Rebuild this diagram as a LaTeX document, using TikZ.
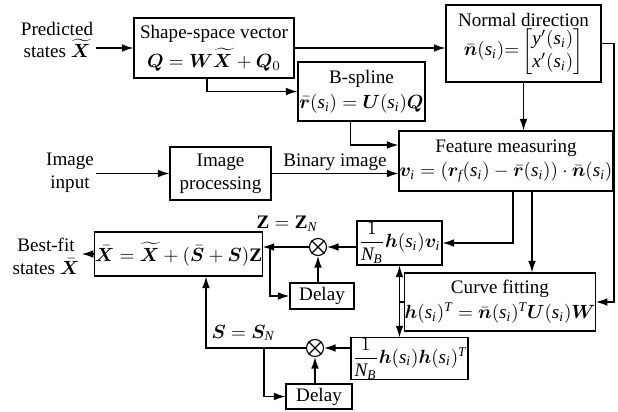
\documentclass[tikz,border=0pt]{standalone}
\usepackage{amsmath}
\usepackage{bm}
\usepackage{fontspec}
\setmainfont{Liberation Serif}
\newfontfamily\tmsfam{Liberation Serif}[NFSSFamily=tms]
\DeclareSymbolFont{letters}{TU}{tms}{m}{it}
\SetSymbolFont{letters}{bold}{TU}{tms}{b}{it}
\DeclareMathAlphabet{\mathbf}{TU}{tms}{b}{n}
\usetikzlibrary{positioning,arrows.meta,calc}
\newlength\pxu
\setlength\pxu{0.524pt}

\begin{document}
\begin{tikzpicture}[x=\pxu, y=-\pxu, line width=0.6pt, >={Latex[length=6pt,width=4pt]},
  blk/.style={draw, align=center, inner sep=0pt},
  mult/.style={draw, circle, minimum size=17\pxu, inner sep=0pt},
  lbl/.style={align=center, inner sep=1pt}]
\useasboundingbox (0,0) rectangle (618,411);

\node    (shape)   [blk, minimum width=160\pxu, minimum height=60\pxu] at (214,48)    {Shape-space vector\\[2pt] $\bm{Q}=\bm{W}\widetilde{\bm{X}}+\bm{Q}_0$};
\node    (bspl)    [blk, minimum width=127\pxu, minimum height=59\pxu] at (361.5,91.5) {B-spline\\[1pt] $\bar{\bm{r}}(s_i)=\bm{U}(s_i)\bm{Q}$};
\node    (normal)  [blk, minimum width=155\pxu, minimum height=77\pxu] at (523.5,43.5) {Normal direction\\ $\bar{\bm{n}}(s_i){=}\begin{bmatrix} y'(s_i)\\ x'(s_i)\end{bmatrix}$};
\node    (feat)    [blk, minimum width=214\pxu, minimum height=60\pxu] at (506,161)   {Feature measuring\\[1pt] $\bm{v}_i=(\bm{r}_f(s_i)-\bar{\bm{r}}(s_i))\cdot\bar{\bm{n}}(s_i)$};
\node    (proc)    [blk, minimum width=101\pxu, minimum height=53\pxu] at (220.5,173.5) {Image\\ processing};
\node    (xbar)    [blk, minimum width=151\pxu, minimum height=44\pxu] at (178.5,254) {$\bar{\bm{X}}=\widetilde{\bm{X}}+(\bar{\bm{S}}+\bm{S})\mathbf{Z}$};
\node    (hv)      [blk, minimum width=85\pxu,  minimum height=44\pxu] at (399.5,243) {$\dfrac{1}{N_B}\bm{h}(s_i)\bm{v}_i$};
\node    (fit)     [blk, minimum width=186\pxu, minimum height=58\pxu] at (500,302)   {Curve fitting\\[1pt] $\bm{h}(s_i)^T=\bar{\bm{n}}(s_i)^T\bm{U}(s_i)\bm{W}$};
\node    (hh)      [blk, minimum width=117\pxu, minimum height=41\pxu] at (409.5,358.5) {$\dfrac{1}{N_B}\bm{h}(s_i)\bm{h}(s_i)^T$};
\node    (d1)      [blk, minimum width=64\pxu,  minimum height=26\pxu] at (322,296)   {Delay};
\node    (d2)      [blk, minimum width=66\pxu,  minimum height=25\pxu] at (319,396.5) {Delay};
\node    (m1)      [mult] at (318,247) {};
\node    (m2)      [mult] at (315,348) {};

\node    (pred)    [lbl] at (57,40)   {Predicted\\ states $\widetilde{\bm{X}}$};
\node    (inp)     [lbl] at (70,173)  {Image\\ input};
\node    (best)    [lbl] at (46,256)  {Best-fit\\ states $\bar{\bm{X}}$};
\node    (zlab)    at (287,224)       {$\mathbf{Z}=\mathbf{Z}_N$};
\node    (slab)    at (243,333)       {$\bm{S}=\bm{S}_N$};

\draw    (m1.north west) -- (m1.south east)  (m1.north east) -- (m1.south west);
\draw    (m2.north west) -- (m2.south east)  (m2.north east) -- (m2.south west);

\coordinate (rt)  at (614,48);
\coordinate (zb)  at (270,247);
\coordinate (sb)  at (264,348);
\coordinate (s1)  at ($(shape.south)+(-7,0)$);
\coordinate (b1)  at ($(bspl.south)+(-11,0)$);
\coordinate (fw)  at ($(feat.west)+(0,-16)$);
\coordinate (f1)  at ($(feat.south)+(7,0)$);
\coordinate (f2)  at ($(feat.south)+(26,0)$);
\coordinate (x1)  at ($(xbar.south)+(27.5,0)$);

\path    (pred.east |- shape.west)    edge[->]    (shape.west);
\path    (shape.east)    edge[->]    (shape.east -| normal.west);
\draw[->]    (s1) |- (bspl.west);
\draw[->]    (b1) |- (fw);
\path    (normal.south)    edge[->]    (normal.south |- feat.north);
\draw[->]    (normal.east) -- (normal.east -| rt) |- (fit.east);
\path    (inp.east |- proc.west)    edge[->]    (proc.west);
\path    (proc.east)    edge[->]    node[above, inner sep=1pt] {Binary image}    (proc.east -| feat.west);
\draw[->]    (f1) |- (hv.east);
\path    (f2)    edge[->]    (f2 |- fit.north);
\path    (hv.west |- m1)    edge[->]    (m1.east);
\path    (m1.west)    edge[->]    (m1 -| xbar.east);
\draw[->]    (zb) |- (d1.west);
\path    (d1.north -| m1)    edge[->]    (m1.south);
\path    (hv.south)    edge[<->]    (hv.south |- hh.north);
\draw    (hv.south |- fit.west) -- (fit.west);
\path    (hh.west |- m2)    edge[->]    (m2.east);
\draw[->]    (m2.west) -| (x1);
\draw[->]    (sb) |- (d2.west);
\path    (d2.north -| m2)    edge[->]    (m2.south);
\path    (xbar.west)    edge[->]    (xbar.west -| best.east);
\end{tikzpicture}
\end{document}
